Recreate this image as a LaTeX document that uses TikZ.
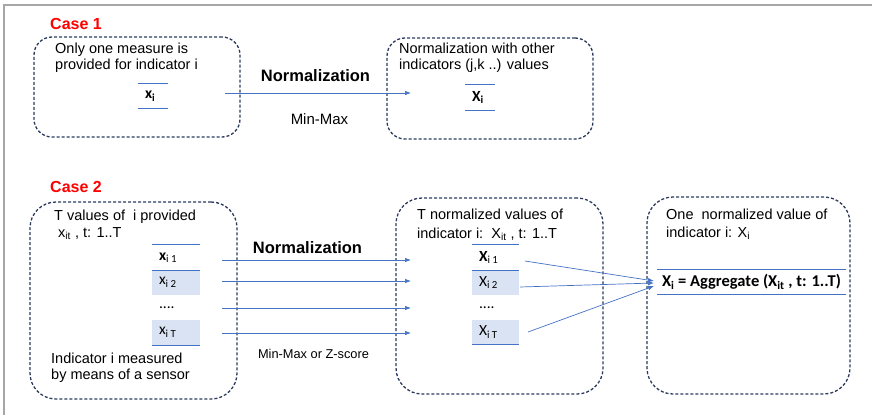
\documentclass[tikz,border=0pt]{standalone}
\usepackage{fontspec}
\setmainfont{Liberation Sans}
\newfontfamily\calib{Carlito}
\usetikzlibrary{arrows.meta}
\definecolor{bline}{HTML}{4472C4}
\definecolor{bfill}{HTML}{DAE3F3}
\definecolor{bdash}{HTML}{2B3A5C}
\definecolor{framegray}{HTML}{A6A6A6}
\definecolor{casered}{HTML}{FF0000}
\begin{document}
\begin{tikzpicture}[x=1pt,y=-1pt,
  dbox/.style={draw=bdash, dash pattern=on 3pt off 2pt, line width=1.3pt, rounded corners=#1, inner sep=0pt},
  dbox/.default=18pt,
  txt/.style={anchor=base west, inner sep=0pt, font=\fontsize{14.5}{17}\selectfont},
  caselbl/.style={anchor=base west, inner sep=0pt, text=casered, font=\fontsize{16}{19}\selectfont\bfseries},
  normlbl/.style={anchor=base, inner sep=0pt, font=\fontsize{16.5}{19}\selectfont\bfseries},
  methlbl/.style={anchor=base, inner sep=0pt, font=\fontsize{15}{18}\selectfont},
  arr/.style={draw=bline, line width=0.7pt, -{Latex[length=6pt,width=4.5pt]}},
  sepline/.style={draw=bline, line width=0.9pt},
  cell/.style={minimum height=25pt, inner ysep=0pt, inner xsep=7pt, text width=#1, align=flush left, font=\calib\fontsize{15.5}{18}\selectfont},
  cell/.default=34pt,
  filled/.style={fill=bfill}
]
\useasboundingbox (0,0) rectangle (872,415);
% frame
\draw[framegray, line width=2pt] (4,415) -- (4,5) -- (872,5);

% ---------- Case 1 ----------
\node[caselbl] (case1) at (50,29.5) {Case 1};
\node[dbox, minimum width=206pt, minimum height=100pt] (b1) at (137,87) {};
\node[txt] (b1t1) at (55,53) {Only one measure is};
\node[txt] (b1t2) at (55,69) {provided for indicator i};
\node[cell=16pt, minimum height=24pt] (c1x) at (153,96) {\textbf{x\textsubscript{i}}};
\draw[sepline] (c1x.north west) -- (c1x.north east);
\draw[sepline] (c1x.south west) -- (c1x.south east);

\node[dbox, minimum width=206pt, minimum height=101pt] (b2) at (490,88.5) {};
\node[txt] (b2t1) at (399,53) {Normalization with other};
\node[txt] (b2t2) at (399,69) {indicators (j,k ..) values};
\node[cell=16pt, minimum height=25pt] (c2x) at (480,97.5) {\textbf{X\textsubscript{i}}};
\draw[sepline] (c2x.north west) -- (c2x.north east);
\draw[sepline] (c2x.south west) -- (c2x.south east);

\node[normlbl] (n1) at (315.5,81) {Normalization};
\node[methlbl] (m1) at (319.5,124) {Min-Max};
\coordinate (a1s) at (225,93);
\coordinate (a1e) at (411,93);
\draw[arr] (a1s) -- (a1e);

% ---------- Case 2 ----------
\node[caselbl] (case2) at (50,192) {Case 2};
\node[dbox=26pt, minimum width=207pt, minimum height=197pt] (b3) at (133.5,300.5) {};
\node[txt] (b3t1) at (54,220) {T values of\ \ i provided};
\node[txt] (b3t2) at (58,237.5) {x\textsubscript{it} , t: 1..T};
\node[txt] (b3t3) at (51,363) {Indicator i measured};
\node[txt] (b3t4) at (51,379.5) {by means of a sensor};

\node[cell] (p1) at (176,257.5) {\textbf{x}\textsubscript{i 1}};
\node[cell, filled] (p2) at (176,282.5) {x\textsubscript{i 2}};
\node[cell] (p3) at (176,307.5) {....};
\node[cell, filled] (p4) at (176,332.5) {x\textsubscript{i T}};
\draw[sepline] (p1.north west) -- (p1.north east);
\draw[sepline] (p1.south west) -- (p1.south east);
\draw[sepline] (p4.south west) -- (p4.south east);

\node[dbox=26pt, minimum width=207pt, minimum height=196pt] (b4) at (499.5,296) {};
\node[txt] (b4t1) at (417,219) {T normalized values of};
\node[txt] (b4t2) at (417,238) {indicator i:\ \ X\textsubscript{it} , t: 1..T};

\node[cell=33pt] (q1) at (495.5,257.5) {\textbf{X}\textsubscript{i 1}};
\node[cell=33pt, filled] (q2) at (495.5,282.5) {X\textsubscript{i 2}};
\node[cell=33pt] (q3) at (495.5,307.5) {....};
\node[cell=33pt, filled] (q4) at (495.5,332) {X\textsubscript{i T}};
\draw[sepline] (q1.north west) -- (q1.north east);
\draw[sepline] (q1.south west) -- (q1.south east);
\draw[sepline] (q4.south west) -- (q4.south east);

\node[dbox=26pt, minimum width=203pt, minimum height=197pt] (b5) at (748.5,295.5) {};
\node[txt] (b5t1) at (666,219) {One\ \ normalized value of};
\node[txt] (b5t2) at (666,237) {indicator i: X\textsubscript{i}};
\node[minimum width=189pt, minimum height=24pt, inner sep=0pt, font=\calib\fontsize{16.5}{19}\selectfont\bfseries] (agg) at (751.5,282) {X\textsubscript{i} = Aggregate (X\textsubscript{it} , t: 1..T)};
\draw[sepline] (agg.north west) -- (agg.north east);
\draw[sepline] (agg.south west) -- (agg.south east);

\node[normlbl] (n2) at (307.5,253) {Normalization};
\node[methlbl, font=\fontsize{12.8}{15}\selectfont] (m2) at (313.5,358) {Min-Max or Z-score};

\coordinate (s1) at (222,260); \coordinate (e1) at (411,260);
\coordinate (s2) at (222,281); \coordinate (e2) at (411,281);
\coordinate (s3) at (222,308); \coordinate (e3) at (411,308);
\coordinate (s4) at (222,333); \coordinate (e4) at (411,333);
\draw[arr] (s1) -- (e1);
\draw[arr] (s2) -- (e2);
\draw[arr] (s3) -- (e3);
\draw[arr] (s4) -- (e4);

\coordinate (f1) at (525,261);
\coordinate (f2) at (520,287);
\coordinate (f3) at (528,332);
\coordinate (g1) at (654,281);
\coordinate (g2) at (654,283);
\coordinate (g3) at (654,286);
\draw[arr] (f1) -- (g1);
\draw[arr] (f2) -- (g2);
\draw[arr] (f3) -- (g3);
\end{tikzpicture}
\end{document}
